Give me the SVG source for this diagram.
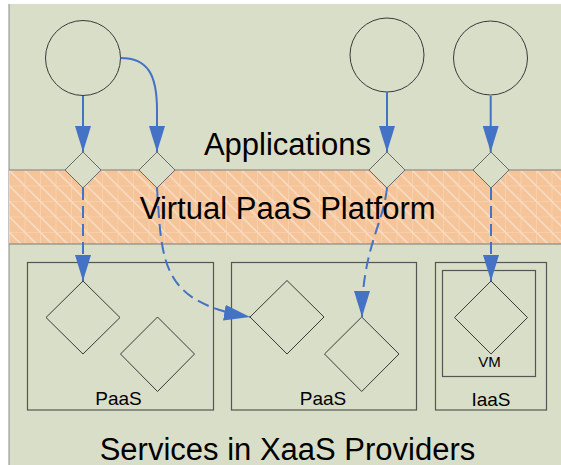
<svg xmlns="http://www.w3.org/2000/svg" width="561" height="465" viewBox="0 0 561 465">
<style>
.bg{fill:#d9dec9}
.node{fill:none;stroke:#3a3a3a;stroke-width:1}
.small{fill:#d9dec9;stroke:#6a6a6a;stroke-width:1}
.box{fill:none;stroke:#555;stroke-width:1.2}
.solid{fill:none;stroke:#4472c4;stroke-width:2}
.dash{fill:none;stroke:#4472c4;stroke-width:2;stroke-dasharray:12 6}
.big{font-family:"Liberation Sans",Arial,sans-serif;font-size:31px;fill:#000;text-anchor:middle}
.lbl{font-family:"Liberation Sans",Arial,sans-serif;font-size:19px;fill:#000;text-anchor:middle}
.vm{font-family:"Liberation Sans",Arial,sans-serif;font-size:15px;fill:#000;text-anchor:middle}
</style>
<defs>
<pattern id="hatch" patternUnits="userSpaceOnUse" x="9" y="170" width="15.5" height="15.5">
<rect width="15.5" height="15.5" fill="#f5c499"/>
<path d="M0,0 L15.5,15.5 M-1,14.5 L1,16.5 M14.5,-1 L16.5,1" stroke="#fbe3cf" stroke-width="1.2"/>
<path d="M0,0 V15.5 M0,0 H15.5" stroke="#f9dbc0" stroke-width="1"/>
</pattern>
<marker id="arr" markerUnits="userSpaceOnUse" markerWidth="26" markerHeight="16" refX="26" refY="8" orient="auto">
<path d="M0,0 L26,8 L0,16 z" fill="#4472c4"/>
</marker>
</defs>
<rect x="9" y="4" width="552" height="461" class="bg"/>
<line x1="9" y1="4" x2="9" y2="465" stroke="#8a8a8a" stroke-width="1"/>
<g id="band">
<rect x="9" y="170" width="552" height="74" fill="url(#hatch)"/>
<line x1="9" y1="170" x2="561" y2="170" stroke="#7a7a7a" stroke-width="1"/>
<line x1="9" y1="244" x2="561" y2="244" stroke="#7a7a7a" stroke-width="1.2"/>
</g>
<g id="app1"><circle cx="83" cy="58" r="37.5" class="node"/></g>
<g id="app2"><circle cx="387" cy="55" r="37" class="node"/></g>
<g id="app3"><circle cx="490.5" cy="58" r="37" class="node"/></g>
<g id="gw1"><path d="M83,152 L101,170 L83,188 L65,170 z" class="small"/></g>
<g id="gw2"><path d="M157,152 L175,170 L157,188 L139,170 z" class="small"/></g>
<g id="gw3"><path d="M387,152 L405,170 L387,188 L369,170 z" class="small"/></g>
<g id="gw4"><path d="M491,152 L509,170 L491,188 L473,170 z" class="small"/></g>
<g id="paas1">
<rect x="27.5" y="262.5" width="186" height="147.5" class="box"/>
<path d="M83,281 L120,317.5 L83,354 L46,317.5 z" class="node"/>
<path d="M157.5,317 L194.5,354 L157.5,391.5 L120.5,354 z" class="node"/>
<text x="118.5" y="405" class="lbl">PaaS</text>
</g>
<g id="paas2">
<rect x="231.5" y="262.5" width="185" height="147.5" class="box"/>
<path d="M287,280.5 L324,317 L287,354 L250,317 z" class="node"/>
<path d="M361.7,317 L399,354 L361.7,391.5 L324.5,354 z" class="node"/>
<text x="323" y="405" class="lbl">PaaS</text>
</g>
<g id="iaas">
<rect x="435.5" y="262.5" width="111" height="147.5" class="box"/>
<rect x="442.5" y="270.5" width="93" height="106" class="box"/>
<path d="M491,281 L527.5,317.5 L491,354 L454.5,317.5 z" class="node"/>
<text x="489.5" y="367" class="vm">VM</text>
<text x="491" y="405.5" class="lbl">IaaS</text>
</g>
<g id="connectors">
<path d="M83,96 L83,152" class="solid" marker-end="url(#arr)"/>
<path d="M120.5,58 C148,58 157,75 157,110 L157,152" class="solid" marker-end="url(#arr)"/>
<path d="M387,92 L387,152" class="solid" marker-end="url(#arr)"/>
<path d="M490.7,96 L490.7,152" class="solid" marker-end="url(#arr)"/>
<path d="M83,188 L83,281" class="dash" marker-end="url(#arr)"/>
<path d="M157,188 C162,262 160,302 250,317" class="dash" marker-end="url(#arr)"/>
<path d="M387,188 C383,225 362,250 362,317" class="dash" marker-end="url(#arr)"/>
<path d="M491,188 L491,281" class="dash" marker-end="url(#arr)"/>
</g>
<text x="287.5" y="155" class="big">Applications</text>
<text x="287.7" y="218.5" class="big">Virtual PaaS Platform</text>
<text x="287.5" y="460" class="big">Services in XaaS Providers</text>
</svg>
